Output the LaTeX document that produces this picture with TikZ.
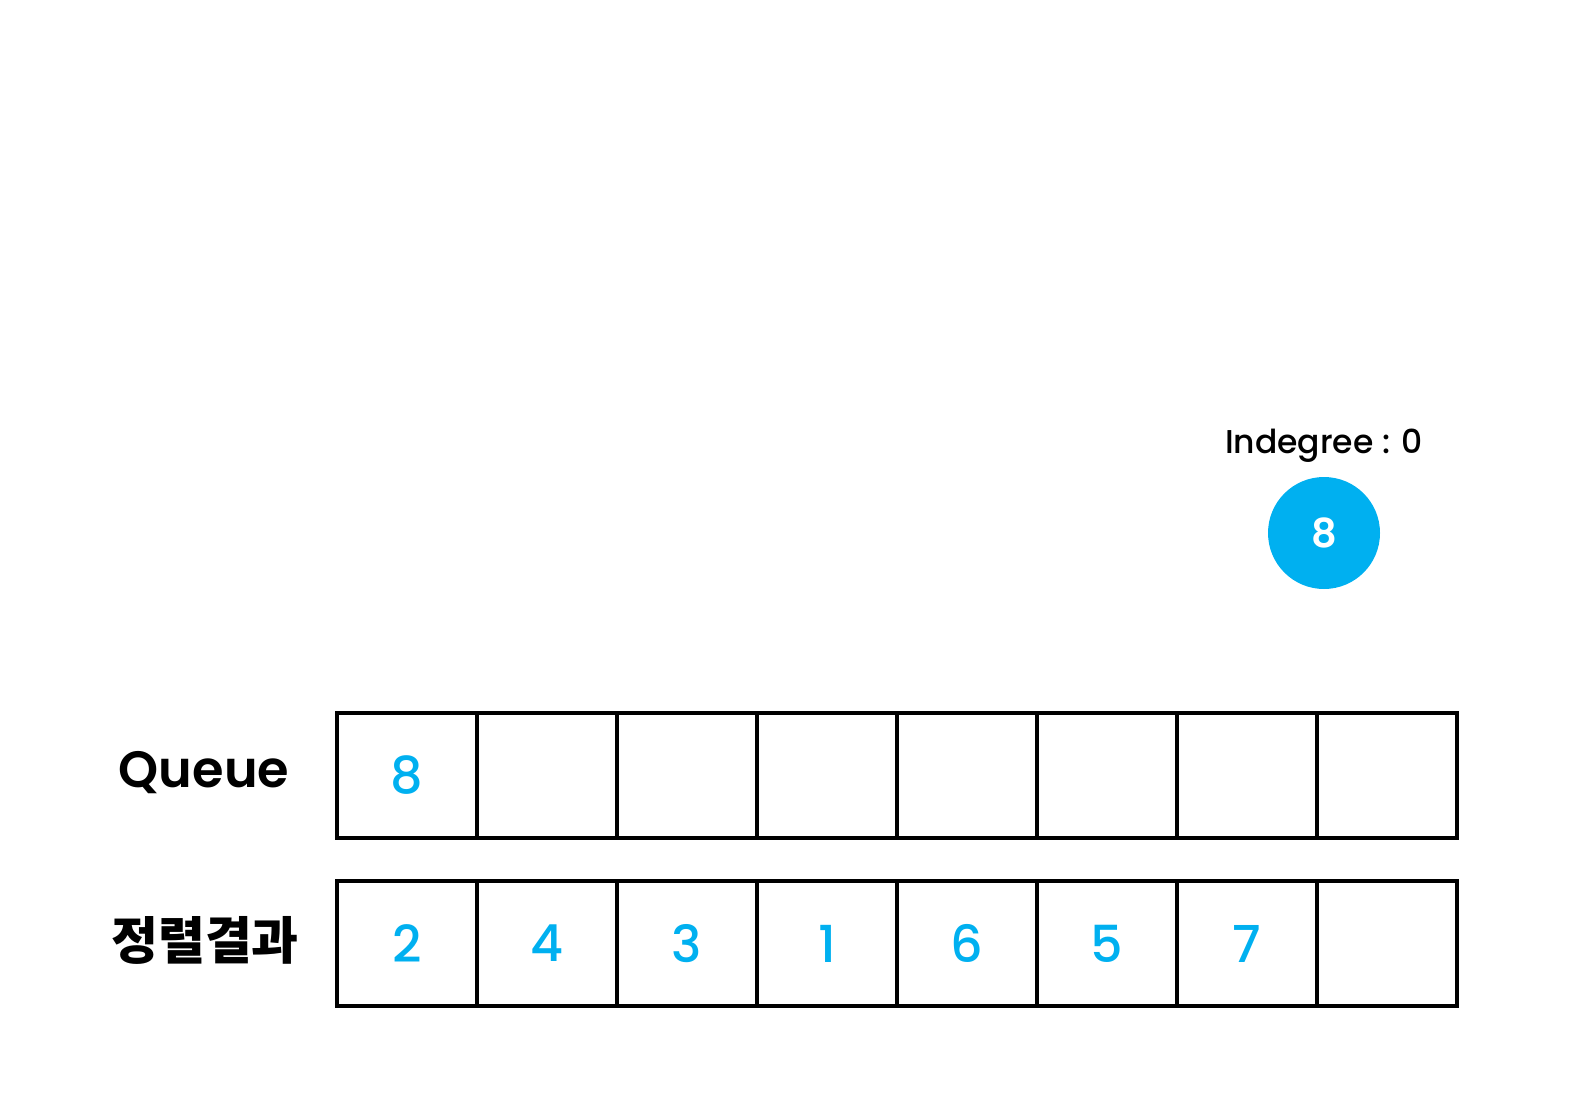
\documentclass[tikz,border=0pt]{standalone}
\usepackage{fontspec}
\setmainfont{Poppins}[UprightFont={* Medium}, BoldFont={* SemiBold}]
\newfontfamily\krfont{Noto Sans CJK KR}
\definecolor{qcyan}{HTML}{00B0F0}
\tikzset{
  cell/.style={draw=black, line width=4pt, minimum width=140pt, minimum height=125pt, inner sep=0pt, anchor=north west, font=\fontsize{51}{60}\selectfont, text=qcyan},
  rowlabel/.style={font=\bfseries\fontsize{51}{60}\selectfont, text=black},
  vertex/.style={circle, fill=qcyan, minimum size=112pt, inner sep=0pt, text=white, font=\bfseries\fontsize{40}{44}\selectfont},
}
\begin{document}
\begin{tikzpicture}[x=1pt,y=-1pt]
\useasboundingbox (0,0) rectangle (1587,1107);
\node[vertex] (v8) at (1324,533) {8};
\node[font=\fontsize{33}{40}\selectfont] (ind) at (1324,446) {Indegree : 0};
\node[rowlabel] (ql) at (204,773) {Queue};
\node[rowlabel, font=\krfont\bfseries\fontsize{51}{60}\selectfont] (rl) at (205,940) {정렬결과};
\foreach \i/\t in {0/8,1/,2/,3/,4/,5/,6/,7/} {
  \node[cell] (q\i) at (335+140*\i,711) {\t};
}
\foreach \i/\t in {0/2,1/4,2/3,3/1,4/6,5/5,6/7,7/} {
  \node[cell] (r\i) at (335+140*\i,879) {\t};
}
\end{tikzpicture}
\end{document}
